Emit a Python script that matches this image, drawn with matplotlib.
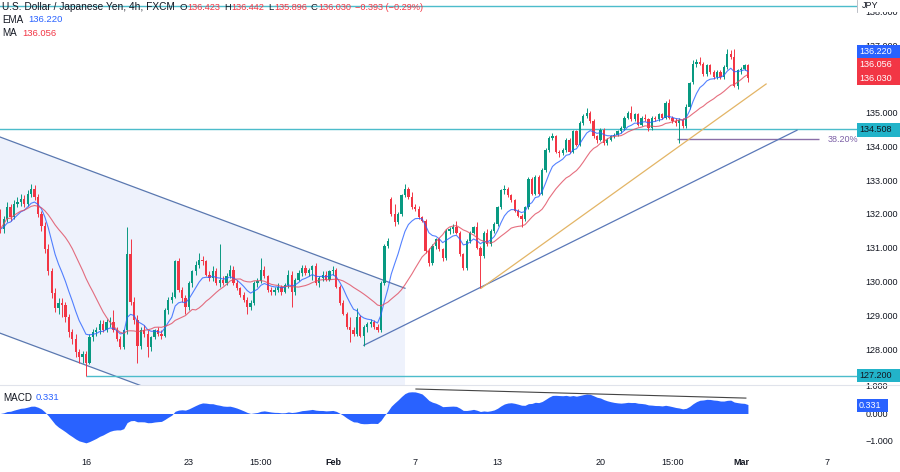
import matplotlib.pyplot as plt
import numpy as np
import pandas as pd
from matplotlib.patches import Rectangle, Polygon

plt.rcParams['font.family'] = ['Liberation Sans', 'DejaVu Sans']

# USDJPY 4h candles (first bar sits 25 bars before Jan 16)
first_bar = -25
opens = [132.05, 131.55, 131.85, 132.2, 131.9, 132.3, 132.35, 132.45, 132.3, 132.6,
         132.75, 132.5, 132.0, 131.65, 130.95, 130.3, 129.65, 129.2, 129.35, 129.3,
         128.95, 128.5, 128.3, 127.9, 127.75,
         127.85, 127.6, 128.35, 128.5, 128.55, 128.75, 128.55, 128.8, 128.8, 128.55,
         128.3, 128.05, 128.55, 130.8, 129.4, 128.85, 128.1, 128.55, 128.45, 128.05,
         128.35, 128.55, 128.45, 128.4, 129.15, 129.45, 129.55, 130.6, 129.75, 129.5,
         129.25, 129.95, 130.3, 130.5, 130.65, 130.6, 130.2, 130.1, 130.3, 129.95,
         130.05, 129.95, 130.15, 130.35, 129.95, 129.8, 129.6, 129.45, 129.25, 129.35,
         129.95, 130.0, 130.35, 130.15, 129.75, 129.7, 129.75, 129.85, 129.7, 129.9,
         130.2, 129.7, 130.05, 130.25, 130.4, 130.25, 130.35, 130.45, 129.95, 130.1,
         130.2, 130.05, 130.3, 130.35, 129.85, 129.35, 129.05, 128.65, 128.55, 128.45,
         128.95, 128.4, 128.65, 128.75, 128.8, 128.65, 128.55, 129.95, 131.05, 132.45,
         132.0, 131.75, 132.0, 132.55, 132.75, 132.5, 132.2, 132.15, 131.9, 131.8,
         130.9, 130.55, 131.05, 131.25, 130.95, 130.7, 131.5, 131.55, 131.6, 131.45,
         130.8, 130.4, 131.2, 131.45, 131.6, 131.0, 130.75, 131.45, 131.1, 131.5,
         131.7, 132.2, 132.7, 132.75, 132.55, 132.4, 132.1, 131.95, 131.85, 132.2,
         133.05, 132.6, 133.1, 132.6, 133.3, 133.9, 134.25, 134.3, 133.85, 133.8,
         133.9, 134.2, 133.85, 134.45, 134.05, 134.7, 134.9, 135.0, 134.75, 134.3,
         134.2, 134.5, 134.1, 134.2, 134.3, 134.35, 134.45, 134.55, 134.85, 135.0,
         134.8, 134.95, 134.65, 134.85, 134.8, 134.55, 134.85, 134.8, 134.95, 134.85,
         135.3, 134.85, 134.75, 134.68, 134.78, 134.6, 135.18, 135.9, 136.45, 136.5,
         136.45, 136.15, 136.4, 136.2, 136.05, 136.2, 136.05, 136.35, 136.75, 136.65,
         135.8, 136.25, 136.3, 136.423]
highs = [132.15, 131.95, 132.35, 132.3, 132.4, 132.5, 132.6, 132.55, 132.7, 132.9,
         132.85, 132.6, 132.1, 131.75, 131.1, 130.4, 129.8, 129.5, 129.5, 129.4,
         129.05, 128.6, 128.45, 128.0, 127.95,
         127.95, 128.45, 128.6, 128.65, 128.85, 128.85, 128.9, 128.95, 129.15, 128.65,
         128.4, 128.6, 131.6, 131.25, 129.55, 129.0, 128.65, 128.7, 128.55, 128.4,
         128.6, 128.65, 128.55, 129.2, 129.55, 129.7, 130.65, 130.7, 129.85, 129.6,
         130.0, 130.35, 130.6, 130.85, 130.75, 130.65, 130.3, 130.45, 130.4, 131.1,
         130.15, 130.25, 130.5, 130.45, 130.05, 129.85, 129.7, 129.55, 129.45, 130.0,
         130.1, 130.7, 130.45, 130.2, 129.85, 129.85, 129.95, 129.9, 129.95, 130.35,
         130.3, 130.1, 130.35, 130.5, 130.5, 130.4, 130.5, 130.55, 130.15, 130.3,
         130.3, 130.35, 130.45, 130.4, 129.9, 129.45, 129.1, 128.95, 128.65, 129.2,
         129.0, 128.7, 128.8, 128.9, 128.85, 128.75, 130.0, 131.1, 131.3, 132.5,
         132.3, 132.05, 132.6, 132.9, 132.8, 132.65, 132.3, 132.25, 131.95, 131.85,
         131.0, 131.1, 131.3, 131.3, 131.0, 131.55, 131.6, 131.7, 131.8, 131.5,
         130.85, 131.25, 131.5, 131.65, 131.75, 131.05, 131.5, 131.55, 131.55, 131.75,
         132.25, 132.75, 132.85, 132.8, 132.6, 132.45, 132.15, 132.0, 132.25, 133.1,
         133.1, 133.15, 133.15, 133.35, 133.95, 134.3, 134.4, 134.35, 133.9, 133.95,
         134.25, 134.25, 134.5, 134.5, 134.75, 134.95, 135.15, 135.05, 134.8, 134.35,
         134.55, 134.55, 134.25, 134.35, 134.4, 134.5, 134.6, 134.9, 135.05, 135.2,
         135.0, 135.0, 134.9, 134.95, 134.85, 134.9, 134.9, 135.0, 135.0, 135.35,
         135.4, 134.9, 134.85, 134.85, 134.85, 135.25, 135.9, 136.55, 136.6, 136.65,
         136.5, 136.45, 136.45, 136.25, 136.25, 136.25, 136.4, 136.9, 136.85, 136.9,
         136.3, 136.35, 136.45, 136.442]
lows = [131.45, 131.45, 131.75, 131.8, 131.85, 132.2, 132.25, 132.2, 132.25, 132.5,
        132.4, 131.9, 131.5, 130.85, 130.2, 129.5, 129.1, 129.05, 128.95, 128.8,
        128.35, 128.15, 127.75, 127.6, 127.6,
        127.2, 127.55, 128.25, 128.4, 128.45, 128.5, 128.5, 128.65, 128.5, 128.25,
        128.0, 128.0, 128.45, 129.3, 128.75, 127.6, 128.0, 128.35, 127.75, 127.95,
        128.3, 128.4, 128.3, 128.35, 129.05, 129.35, 129.5, 129.7, 129.4, 129.05,
        129.15, 129.85, 130.2, 130.4, 130.5, 130.15, 130.0, 130.0, 129.9, 129.85,
        129.9, 129.9, 130.1, 129.9, 129.75, 129.55, 129.4, 129.05, 129.15, 129.3,
        129.85, 129.95, 130.1, 129.7, 129.6, 129.6, 129.7, 129.6, 129.65, 129.8,
        129.25, 129.6, 130.0, 130.15, 130.2, 130.15, 130.05, 129.9, 129.85, 130.0,
        130.0, 130.0, 130.2, 129.8, 129.3, 129.0, 128.6, 128.2, 128.4, 128.4,
        128.35, 128.1, 128.5, 128.65, 128.6, 128.5, 128.5, 129.9, 131.0, 131.95,
        131.65, 131.7, 131.95, 132.5, 132.45, 132.15, 132.1, 131.85, 131.75, 130.85,
        130.45, 130.5, 130.95, 130.9, 130.6, 130.65, 131.4, 131.45, 131.4, 130.75,
        130.35, 130.35, 131.15, 131.4, 130.95, 129.8, 130.7, 131.05, 131.05, 131.45,
        131.65, 132.15, 132.6, 132.5, 132.35, 132.05, 131.9, 131.6, 131.8, 132.15,
        132.55, 132.55, 132.55, 132.55, 133.25, 133.85, 134.2, 133.8, 133.7, 133.75,
        133.85, 133.8, 133.8, 134.0, 134.0, 134.65, 134.85, 134.7, 134.25, 134.1,
        134.15, 134.05, 134.05, 134.15, 134.25, 134.3, 134.4, 134.5, 134.8, 134.75,
        134.75, 134.6, 134.6, 134.75, 134.45, 134.5, 134.75, 134.75, 134.8, 134.8,
        134.8, 134.7, 134.6, 134.09, 134.55, 134.55, 135.1, 135.85, 136.35, 136.4,
        136.1, 136.1, 136.15, 136.0, 136.0, 136.0, 136.0, 136.3, 136.6, 135.75,
        135.7, 136.15, 136.25, 135.896]
closes = [131.55, 131.85, 132.2, 131.9, 132.3, 132.35, 132.45, 132.3, 132.6, 132.75,
          132.5, 132.0, 131.65, 130.95, 130.3, 129.65, 129.2, 129.35, 129.3, 128.95,
          128.5, 128.3, 127.9, 127.75, 127.85,
          127.6, 128.35, 128.5, 128.55, 128.75, 128.55, 128.8, 128.8, 128.55, 128.3,
          128.05, 128.55, 130.8, 129.4, 128.85, 128.1, 128.55, 128.45, 128.05, 128.35,
          128.55, 128.45, 128.4, 129.15, 129.45, 129.55, 130.6, 129.75, 129.5, 129.25,
          129.95, 130.3, 130.5, 130.65, 130.6, 130.2, 130.1, 130.3, 129.95, 130.05,
          129.95, 130.15, 130.35, 129.95, 129.8, 129.6, 129.45, 129.25, 129.35, 129.95,
          130.0, 130.35, 130.15, 129.75, 129.7, 129.75, 129.85, 129.7, 129.9, 130.2,
          129.7, 130.05, 130.25, 130.4, 130.25, 130.35, 130.45, 129.95, 130.1, 130.2,
          130.05, 130.3, 130.35, 129.85, 129.35, 129.05, 128.65, 128.55, 128.45, 128.95,
          128.4, 128.65, 128.75, 128.8, 128.65, 128.55, 129.95, 131.05, 131.2, 132.0,
          131.75, 132.0, 132.55, 132.75, 132.5, 132.2, 132.15, 131.9, 131.8, 130.9,
          130.55, 131.05, 131.25, 130.95, 130.7, 131.5, 131.55, 131.6, 131.45, 130.8,
          130.4, 131.2, 131.45, 131.6, 131.0, 130.75, 131.45, 131.1, 131.5, 131.7,
          132.2, 132.7, 132.75, 132.55, 132.4, 132.1, 131.95, 131.85, 132.2, 133.05,
          132.6, 133.1, 132.6, 133.3, 133.9, 134.25, 134.3, 133.85, 133.8, 133.9,
          134.2, 133.85, 134.45, 134.05, 134.7, 134.9, 135.0, 134.75, 134.3, 134.2,
          134.5, 134.1, 134.2, 134.3, 134.35, 134.45, 134.55, 134.85, 135.0, 134.8,
          134.95, 134.65, 134.85, 134.8, 134.55, 134.85, 134.8, 134.95, 134.85, 135.3,
          134.85, 134.75, 134.68, 134.78, 134.6, 135.18, 135.87, 136.45, 136.5, 136.45,
          136.15, 136.4, 136.2, 136.05, 136.2, 136.05, 136.35, 136.75, 136.65, 135.8,
          136.25, 136.3, 136.42, 136.03]

date_ticks = [0, 30, 51, 72, 96, 120, 150, 171, 191, 216]
date_labels = ['16', '23', '15:00', 'Feb', '7', '13', '20', '15:00', 'Mar', '7']
# 136.000 sits fully under the price tags, so it is not listed
price_ticks = [128, 129, 130, 131, 132, 133, 134, 135, 137, 138]
macd_ticks = [-1, 0, 1]

# drawings on the chart: (bar, price) end points
channel_upper = [(-25.07, 134.28), (93.0, 129.80)]
channel_lower = [(-25.07, 128.47), (93.0, 124.00)]
support_line = [(81.0, 128.11), (207.3, 134.48)]
rising_line = [(115.2, 129.80), (198.3, 135.85)]
fib_level = 134.22
fib_span = (172.2, 213.8)
levels = [138.16, 134.508]
low_level = 127.2
macd_div = [(96.2, 0.89), (192.4, 0.56)]

GREEN = '#089981'
RED = '#f23645'
BLUE = '#2962ff'
TEAL = '#4cbccb'
TXT = '#131722'

df = pd.DataFrame({'o': opens, 'h': highs, 'l': lows, 'c': closes})
df['x'] = np.arange(len(df)) + first_bar
ema = df['c'].ewm(span=9, adjust=False).mean()
ma = df['c'].rolling(20, min_periods=1).mean()
macd = df['c'].ewm(span=12, adjust=False).mean() - df['c'].ewm(span=26, adjust=False).mean()

W, H = 900, 472
fig = plt.figure(figsize=(9, 4.72), dpi=100)
ax = fig.add_axes([0, 1 - 385 / H, 857 / W, 385 / H])
ax2 = fig.add_axes([0, 20 / H, 857 / W, 67 / H], sharex=ax)

# channel
poly = Polygon([channel_upper[0], channel_upper[1], channel_lower[1], channel_lower[0]],
               closed=True, facecolor='#eef2fc', edgecolor='none', zorder=0)
ax.add_patch(poly)
for seg in (channel_upper, channel_lower):
    ax.plot([seg[0][0], seg[1][0]], [seg[0][1], seg[1][1]], color='#5a78b0', lw=0.9, zorder=1)

# candles
up = df['c'] >= df['o']
cols = np.where(up, GREEN, RED)
ax.vlines(df['x'], df['l'], df['h'], colors=cols, lw=0.7, zorder=3)
body_lo = np.minimum(df['o'], df['c'])
body_h = np.maximum(np.abs(df['c'] - df['o']), 0.025)
ax.bar(df['x'], body_h, bottom=body_lo, width=0.66, color=cols, lw=0, zorder=3)

ax.plot(df['x'], ema, color=BLUE, lw=0.8, alpha=0.8, zorder=4)
ax.plot(df['x'], ma, color='#e04b5f', lw=0.8, alpha=0.8, zorder=4)

# levels and trend lines
for lv in levels:
    ax.axhline(lv, color=TEAL, lw=1, zorder=2)
ax.hlines(low_level, 0, 230, color=TEAL, lw=1, zorder=2)
ax.hlines(fib_level, fib_span[0], fib_span[1], color='#8a6fa8', lw=1, zorder=2)
ax.text(fib_span[1] + 2.5, fib_level, '38.20%', color='#7b5fa6', fontsize=6.5,
        va='center', ha='left')
ax.plot([p[0] for p in support_line], [p[1] for p in support_line], color='#5a78b8', lw=0.9, zorder=2)
ax.plot([p[0] for p in rising_line], [p[1] for p in rising_line], color='#e3b566', lw=0.9, zorder=2)

ax.set_xlim(-25.07, 224.8)
ax.set_ylim(126.934, 138.338)
ax.yaxis.tick_right()
ax.set_yticks(price_ticks)
ax.set_yticklabels([f'{v:.3f}' for v in price_ticks])
ax.tick_params(axis='y', length=0, pad=6, labelsize=6.5, labelcolor=TXT)
ax.tick_params(axis='x', length=0, labelbottom=False)
for s in ax.spines.values():
    s.set_visible(False)

# MACD pane
ax2.fill_between(df['x'], macd, 0, color=BLUE, lw=0)
ax2.plot([p[0] for p in macd_div], [p[1] for p in macd_div], color='#444', lw=0.8)
ax2.set_ylim(-1.40, 1.036)
ax2.yaxis.tick_right()
ax2.set_yticks(macd_ticks)
ax2.set_yticklabels(['\u22121.000', '0.000', '1.000'])
ax2.tick_params(axis='y', length=0, pad=6, labelsize=6.5, labelcolor=TXT)
ax2.set_xticks(date_ticks)
ax2.set_xticklabels(date_labels)
ax2.tick_params(axis='x', length=0, pad=4, labelsize=6.5, labelcolor=TXT)
for lab in ax2.get_xticklabels():
    if lab.get_text() in ('Feb', 'Mar'):
        lab.set_fontweight('bold')
for s in ax2.spines.values():
    s.set_visible(False)
fig.add_artist(plt.Line2D([0, 1], [1 - 385 / H, 1 - 385 / H], color='#e0e3eb', lw=0.8))


def px(x, y):
    return x / W, 1 - y / H


def tag(y0, y1, text, fc, tc, x0=857, x1=900):
    fig.add_artist(Rectangle(px(x0, y1), (x1 - x0) / W, (y1 - y0) / H,
                             transform=fig.transFigure, facecolor=fc, edgecolor='none', zorder=5))
    if text:
        fig.text(*px(x0 + 2, (y0 + y1) / 2), text, color=tc, fontsize=6.5, va='center',
                 ha='left', zorder=6)


tag(0, 12, '', 'white', TXT)
fig.add_artist(plt.Line2D([857 / W, 857 / W], [1, 1 - 12 / H], color='#b2b5be', lw=0.6, zorder=6))
fig.text(*px(862, 5), 'JPY', color=TXT, fontsize=6.5, va='center', zorder=6)
tag(45, 58, '136.220', BLUE, 'white')
tag(58, 71.5, '136.056', RED, 'white')
tag(71.5, 85, '136.030', RED, 'white')
tag(123.5, 136.5, '134.508', '#22b3c9', TXT)
tag(369, 382, '127.200', '#22b3c9', TXT)
tag(399, 412, '0.331', BLUE, 'white', x1=888)

# header, laid out piece after piece so nothing collides
renderer = fig.canvas.get_renderer()
hdr = [('U.S. Dollar / Japanese Yen, 4h, FXCM', TXT, 7.3, 5),
       ('O', TXT, 6.8, 0.3), ('136.423', RED, 6.6, 4),
       ('H', TXT, 6.8, 0.3), ('136.442', RED, 6.6, 4),
       ('L', TXT, 6.8, 0.3), ('135.896', RED, 6.6, 4),
       ('C', TXT, 6.8, 0.3), ('136.030', RED, 6.6, 4),
       ('\u22120.393 (\u22120.29%)', RED, 6.6, 0)]
x = 2
for t, c, fs, gap in hdr:
    txt = fig.text(*px(x, 7), t, color=c, fontsize=fs, va='center')
    bb = txt.get_window_extent(renderer=renderer)
    x = bb.x1 + gap

fig.text(*px(2, 20), 'EMA', color=TXT, fontsize=7.1, va='center')
fig.text(*px(28, 20), '136.220', color=BLUE, fontsize=6.8, va='center')
fig.text(*px(2, 33), 'MA', color=TXT, fontsize=7.1, va='center')
fig.text(*px(22, 33), '136.056', color=RED, fontsize=6.8, va='center')
fig.text(*px(3, 398), 'MACD', color=TXT, fontsize=7.1, va='center')
fig.text(*px(36, 398), '0.331', color=BLUE, fontsize=6.8, va='center')

fig.savefig('out.png', dpi=100)
